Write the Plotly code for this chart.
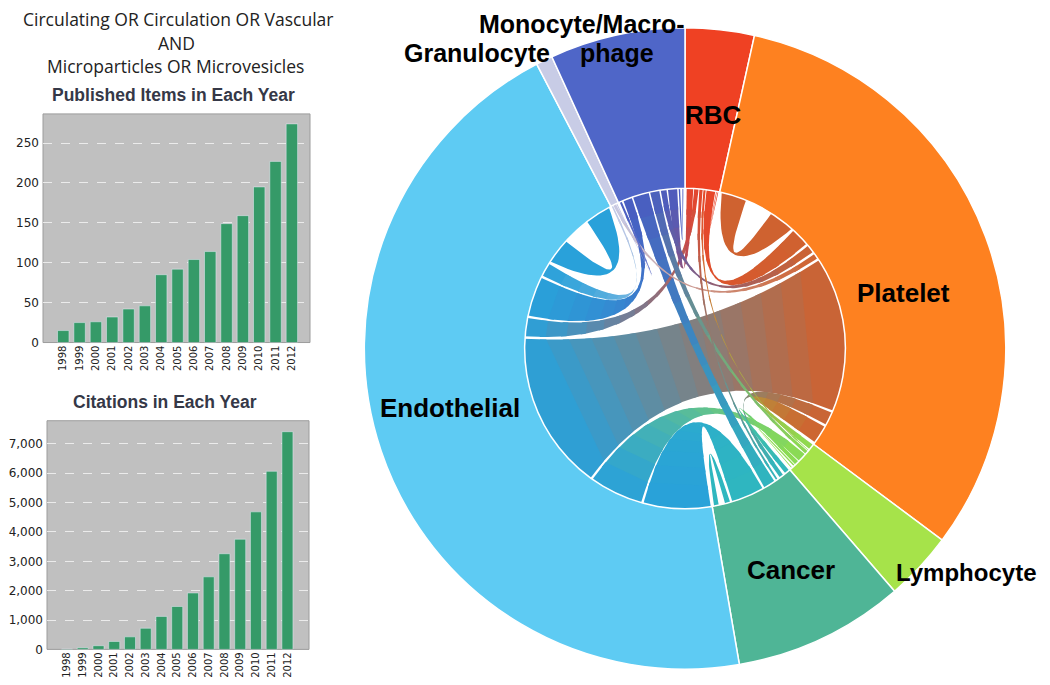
#bar charts of publications/citations per year plus a donut + chord diagram of microparticle cell origins
import numpy as np
import plotly.graph_objects as go

#yearly literature counts
years = list(range(1998, 2013))
published_items = [15, 25, 26, 32, 42, 46, 85, 92, 104, 114, 149, 159, 195, 227, 274]
citations = [10, 56, 124, 270, 427, 719, 1124, 1461, 1921, 2472, 3258, 3753, 4685, 6067, 7416]

#cell types of origin, clockwise from 12 o'clock
cell_types = ["RBC", "Platelet", "Lymphocyte", "Cancer", "Endothelial", "Granulocyte", "Monocyte/Macrophage"]
cell_counts = [25, 228, 25, 62, 324, 6, 49]
slice_colors = ["#ef4123", "#fe8120", "#a6e34a", "#4fb596", "#5ecbf3", "#c8cce6", "#4f66c8"]
ribbon_colors = ["#e8452a", "#cf6230", "#8edc50", "#2fb7bf", "#29a1da", "#c8cbe6", "#4a5cc0"]
#where each group's self link sits on its arc
self_link_at = ["end", "start", "end", "end", "end", "end", "end"]

#co-occurrence links, rows = from, cols = to (same order as cell_types)
links = [
    [2, 8, 2, 3, 4, 0, 6],
    [14, 60, 14, 10, 120, 4, 6],
    [1, 5, 4, 4, 8, 0, 3],
    [2, 4, 4, 14, 28, 0, 10],
    [14, 120, 40, 50, 60, 10, 30],
    [0, 3, 0, 0, 2, 0, 1],
    [8, 5, 8, 14, 8, 2, 4],
]

BAR_GREEN = "#359a68"
R_IN = 0.5  # donut hole -> chord radius (axis units, outer radius = 1)

# pixel boxes -> paper domains
W, H = 1050, 685
pie_x = [(677 - 324) / W, (677 + 324) / W]
pie_y = [(H - 344 - 324) / H, (H - 344 + 324) / H]

fig = go.Figure()

#---- bar charts
fig.add_trace(go.Bar(x=years, y=published_items, marker_color=BAR_GREEN, width=0.7,
                     xaxis="x", yaxis="y", hoverinfo="x+y"))
fig.add_trace(go.Bar(x=years, y=citations, marker_color=BAR_GREEN, width=0.7,
                     xaxis="x2", yaxis="y2", hoverinfo="x+y"))

#---- chord ribbons
n = len(cell_types)
total = sum(cell_counts)
spans = np.array(cell_counts) / total * 360
starts = np.concatenate([[0], np.cumsum(spans)[:-1]])
mids = starts + spans / 2

sub = {}
for i in range(n):
    # farthest clockwise target first -> ribbons nest without crossing
    others = sorted([j for j in range(n) if j != i and links[i][j] > 0],
                    key=lambda j: -((mids[j] - mids[i]) % 360))
    items = others
    if links[i][i] > 0:
        items = [i] + others if self_link_at[i] == "start" else others + [i]
    pad = min(0.6, 0.1 * spans[i])
    gap = min(0.9, 0.15 * spans[i] / len(items))
    avail = spans[i] - 2 * pad - gap * (len(items) - 1)
    scale = avail / sum(links[i][j] for j in items)
    a = starts[i] + pad
    for j in items:
        w = links[i][j] * scale
        sub[(i, j)] = (a, a + w)
        a += w + gap


def pt(theta, r=R_IN):
    t = np.radians(theta)
    return np.array([r * np.sin(t), r * np.cos(t)])


def arc(a0, a1, num=20):
    return np.array([pt(a) for a in np.linspace(a0, a1, num)])


def bez(p0, c, p2, u):
    u = np.asarray(u)[:, None]
    return (1 - u) ** 2 * p0 + 2 * u * (1 - u) * c + u ** 2 * p2


def hex_rgb(h):
    return np.array([int(h[k:k + 2], 16) for k in (1, 3, 5)], dtype=float)


def mix(c1, c2, f):
    c = hex_rgb(c1) * (1 - f) + hex_rgb(c2) * f
    return "rgb(%d,%d,%d)" % tuple(c.round())


def add_poly(poly, col):
    fig.add_trace(go.Scatter(x=poly[:, 0], y=poly[:, 1], fill="toself", fillcolor=col,
                             mode="lines", line=dict(width=0),
                             xaxis="x3", yaxis="y3", hoverinfo="skip"))


ribbons = []
for i in range(n):
    for j in range(i, n):
        if (i, j) in sub and (j, i) in sub:
            ribbons.append((links[i][j] + links[j][i], i, j))
ribbons.sort(reverse=True)

NSTRIP = 14
for _, i, j in ribbons:
    if i == j:
        # self link drawn as a U-shaped loop inside the group
        a0, a1 = sub[(i, i)]
        w = a1 - a0
        s0, s1, t0, t1 = a0, a0 + 0.32 * w, a1 - 0.32 * w, a1
        c = pt((a0 + a1) / 2, R_IN * 0.35)
        u = np.linspace(0, 1, 30)
        poly = np.vstack([arc(s0, s1), bez(pt(s1), c, pt(t0), u),
                          arc(t0, t1), bez(pt(t1), c, pt(s0), u)])
        add_poly(poly, ribbon_colors[i])
        continue
    s0, s1 = sub[(i, j)]
    t0, t1 = sub[(j, i)]
    c = np.array([0.0, 0.0])
    edges = np.linspace(0, 1, NSTRIP + 1)
    for k in range(NSTRIP):
        # strips overlap a little so no seams show between them
        u = np.linspace(edges[k], min(1.0, edges[k + 1] + 0.02), 8)
        A = bez(pt(s1), c, pt(t0), u)
        B = bez(pt(s0), c, pt(t1), u)[::-1]
        parts = []
        if k == 0:
            parts.append(arc(s0, s1))
        parts.append(A)
        if k == NSTRIP - 1:
            parts.append(arc(t0, t1))
        parts.append(B)
        add_poly(np.vstack(parts), mix(ribbon_colors[i], ribbon_colors[j], (k + 0.5) / NSTRIP))

#---- donut
fig.add_trace(go.Pie(labels=cell_types, values=cell_counts, hole=R_IN, sort=False,
                     direction="clockwise", rotation=0, textinfo="none",
                     marker=dict(colors=slice_colors, line=dict(color="white", width=1.5)),
                     domain=dict(x=pie_x, y=pie_y), hoverinfo="label+value"))

#---- layout
tick_font = dict(family="DejaVu Sans", size=12, color="#222")
year_font = dict(family="DejaVu Sans", size=10, color="#222")
bar_y = dict(showgrid=True, gridcolor="rgba(240,240,240,0.9)", griddash="dash", gridwidth=1,
             zeroline=False, ticks="", tickfont=tick_font, ticklabelstandoff=3)
bar_x = dict(tickmode="array", tickvals=years, tickangle=-90, tickfont=year_font,
             showgrid=False, zeroline=False, ticks="")

fig.update_layout(
    width=W, height=H,
    margin=dict(l=0, r=0, t=0, b=0),
    paper_bgcolor="white", plot_bgcolor="white",
    showlegend=False,
    xaxis=dict(domain=[35 / W, 302 / W], range=[1996.76, 2013.11], anchor="y", **bar_x),
    yaxis=dict(domain=[1 - 338 / H, 1 - 107 / H], range=[0, 286.5], dtick=50, anchor="x", **bar_y),
    xaxis2=dict(domain=[39 / W, 301 / W], range=[1996.73, 2013.37], anchor="y2", **bar_x),
    yaxis2=dict(domain=[1 - 648 / H, 1 - 417 / H], range=[0, 7790], dtick=1000,
                tickformat=",d", anchor="x2", **bar_y),
    xaxis3=dict(domain=pie_x, range=[-1, 1], visible=False, anchor="y3"),
    yaxis3=dict(domain=pie_y, range=[-1, 1], visible=False, anchor="x3"),
)

#grey plot backgrounds for the two bar charts
for xr, yr in [("x", "y"), ("x2", "y2")]:
    fig.add_shape(type="rect", xref=xr + " domain", yref=yr + " domain", x0=0, x1=1, y0=0, y1=1,
                  fillcolor="#c0c0c0", line=dict(color="#9c9c9c", width=1), layer="below")

#header and chart titles (x, y given in pixels from top-left, text centred there)
def px_note(text, x, y, size, bold=False, family="Open Sans", color="#222"):
    fig.add_annotation(text="<b>%s</b>" % text if bold else text, x=x / W, y=1 - y / H,
                       xref="paper", yref="paper", xanchor="center", yanchor="middle",
                       showarrow=False, font=dict(family=family, size=size, color=color))

px_note("Circulating OR Circulation OR Vascular", 170, 11, 17.5)
px_note("AND", 168, 35, 17.5)
px_note("Microparticles OR Microvesicles", 167, 59, 17.5)
px_note("Published Items in Each Year", 165, 88, 17.5, bold=True, family="Liberation Sans", color="#353847")
px_note("Citations in Each Year", 157, 398, 17.5, bold=True, family="Liberation Sans", color="#353847")

#donut labels
lab = dict(bold=True, family="Liberation Sans", color="black")
px_note("RBC", 705, 108, 26, **lab)
px_note("Platelet", 895, 288, 26, **lab)
px_note("Endothelial", 442, 404, 26, **lab)
px_note("Cancer", 783, 568, 26, **lab)
px_note("Lymphocyte", 958, 570, 24, **lab)
px_note("Granulocyte", 469, 45, 25, **lab)
px_note("Monocyte/Macro-", 574, 16, 25, **lab)
px_note("phage", 609, 45, 25, **lab)

fig.write_html("out.html")
